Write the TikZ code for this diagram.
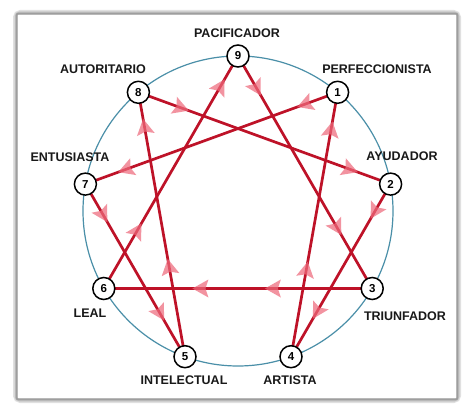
\documentclass[tikz,border=0pt]{standalone}
\usepackage{fontspec}
\setmainfont{Liberation Sans}
\usetikzlibrary{decorations.markings,backgrounds}
\definecolor{linkred}{HTML}{BE1228}
\definecolor{arrowpink}{HTML}{EE6A7C}
\definecolor{ringblue}{HTML}{4A8FA8}
\newcommand\enneaArrow{\fill[arrowpink, fill opacity=0.72] (8pt,0pt) -- (-8pt,9pt) -- (-5pt,0pt) -- (-8pt,-9pt) -- cycle;}
\tikzset{
  pt/.style={circle, draw=black, line width=1.5pt, fill=white, minimum size=22pt, inner sep=0pt,
    font=\fontsize{11.5}{11.5}\selectfont\bfseries},
  lbl/.style={font=\fontsize{12.5}{14}\selectfont\bfseries, text=black!90, inner sep=0pt},
  link/.style={draw=linkred, line width=2.7pt},
  arr/.style 2 args={postaction={decorate, decoration={markings,
      mark=at position #1 with {\enneaArrow},
      mark=at position #2 with {\enneaArrow}}}}
}
\begin{document}
\begin{tikzpicture}[x=1pt,y=-1pt]
\useasboundingbox (0,0) rectangle (474,412);
% nodes
\node[pt] (n9) at (238,56) {9};
\node[pt] (n1) at (337.6,92.3) {1};
\node[pt] (n2) at (390.6,184.1) {2};
\node[pt] (n3) at (372.2,288.5) {3};
\node[pt] (n4) at (291,356.7) {4};
\node[pt] (n5) at (185,356.7) {5};
\node[pt] (n6) at (103.8,288.5) {6};
\node[pt] (n7) at (85.4,184.1) {7};
\node[pt] (n8) at (138.4,92.3) {8};
% labels
\node[lbl] (l9) at (237,33) {PACIFICADOR};
\node[lbl] (l8) at (103,69) {AUTORITARIO};
\node[lbl] (l1) at (377,69) {PERFECCIONISTA};
\node[lbl] (l7) at (70,157) {ENTUSIASTA};
\node[lbl] (l2) at (402,156) {AYUDADOR};
\node[lbl] (l6) at (90,313) {LEAL};
\node[lbl] (l3) at (405,316) {TRIUNFADOR};
\node[lbl] (l5) at (184,380) {INTELECTUAL};
\node[lbl] (l4) at (290,380) {ARTISTA};
\begin{pgfonlayer}{background}
  % frame
  \fill[white] (0,0) rectangle (474,412);
  \draw[black!12, line width=7pt, rounded corners=4pt] (16.5,13.5) rectangle (457.5,399.5);
  \draw[black!22, line width=4pt, rounded corners=3pt] (16.5,13.5) rectangle (457.5,399.5);
  \draw[black!38, line width=1.8pt, rounded corners=2pt] (16.5,13.5) rectangle (457.5,399.5);
  \fill[white] (18,15) rectangle (456,398);
  % ring
  \node[circle, draw=ringblue, line width=1.2pt, minimum size=310pt, inner sep=0pt] (ring) at (238,211) {};
  % triangle
  \path[link, arr={0.14}{0.74}] (n9.center) -- (n3.center);
  \path[link, arr={0.37}{0.64}] (n3.center) -- (n6.center);
  \path[link, arr={0.25}{0.87}] (n6.center) -- (n9.center);
  % hexad
  \path[link, arr={0.13}{0.84}] (n1.center) -- (n7.center);
  \path[link, arr={0.18}{0.75}] (n7.center) -- (n5.center);
  \path[link, arr={0.34}{0.87}] (n5.center) -- (n8.center);
  \path[link, arr={0.17}{0.84}] (n8.center) -- (n2.center);
  \path[link, arr={0.16}{0.74}] (n2.center) -- (n4.center);
  \path[link, arr={0.33}{0.86}] (n4.center) -- (n1.center);
\end{pgfonlayer}
\end{tikzpicture}
\end{document}
